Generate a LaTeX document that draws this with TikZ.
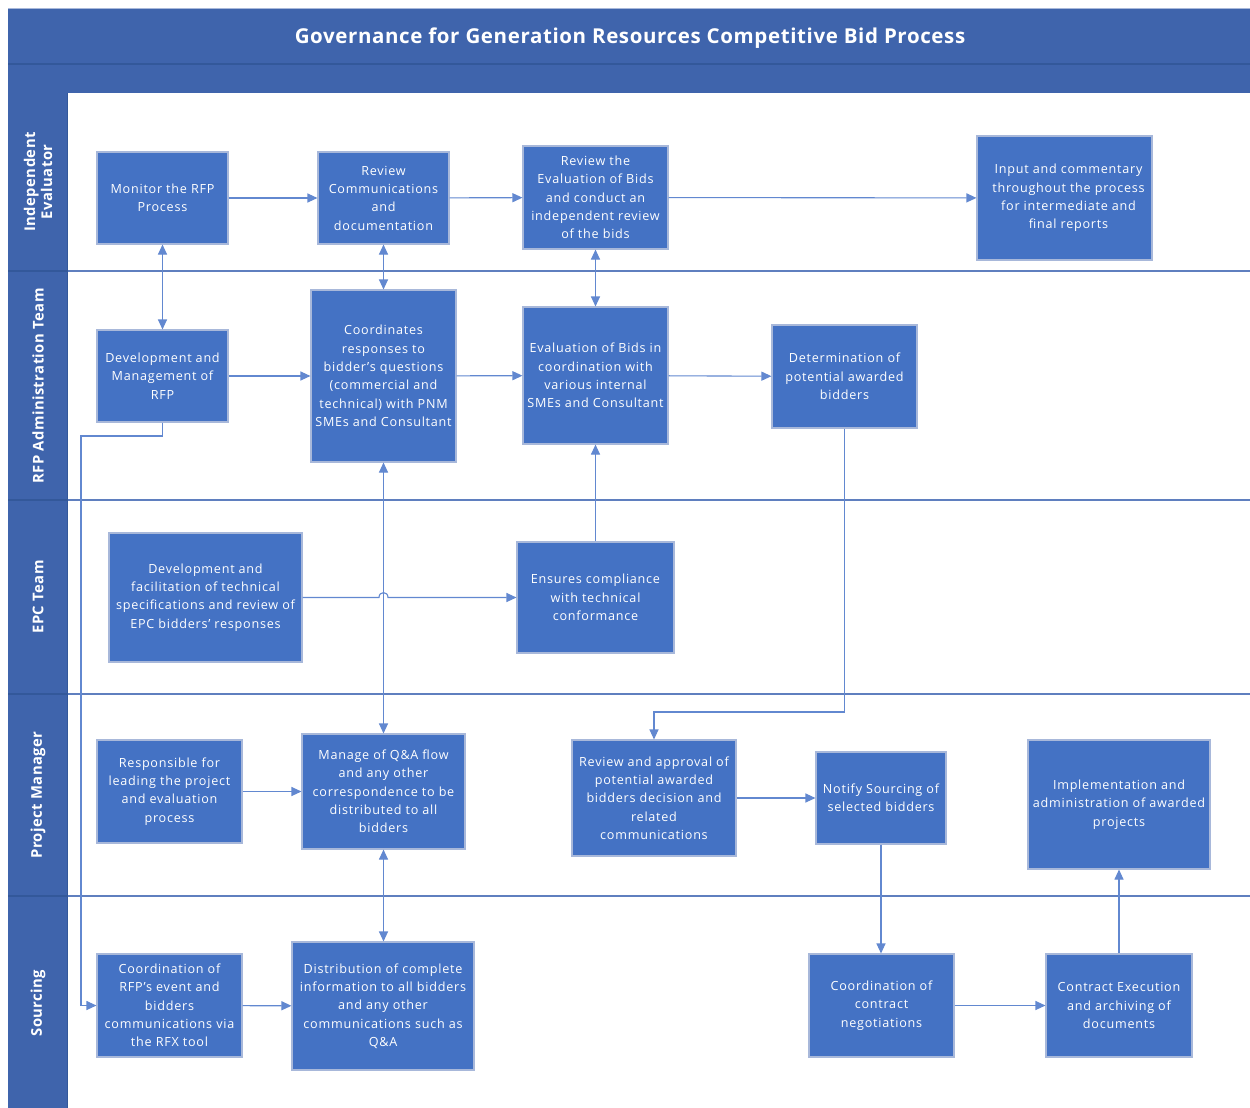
\documentclass[tikz,border=0pt]{standalone}
\usepackage{fontspec}
\setmainfont{Open Sans}
\newfontfamily\boxfont{Open Sans}[LetterSpace=6]
\newfontfamily\titlefont{Open Sans}[LetterSpace=3]
\usetikzlibrary{arrows.meta}
\definecolor{hdr}{HTML}{3F64AC}
\definecolor{hdrline}{HTML}{33589A}
\definecolor{boxfill}{HTML}{4472C4}
\definecolor{boxline}{HTML}{A8B8DA}
\definecolor{lineblue}{HTML}{6288D0}
\definecolor{laneline}{HTML}{5F7FBF}
\tikzset{
  box/.style={draw=boxline, fill=boxfill, text=white, align=center,
    line width=1.1pt, inner sep=1pt,
    font=\boxfont\fontsize{12.6}{18.3}\selectfont},
  conn/.style={draw=lineblue, line width=1.1pt, -{Triangle[length=10pt,width=9pt]}},
  biconn/.style={draw=lineblue, line width=1.1pt, {Triangle[length=10pt,width=9pt]}-{Triangle[length=10pt,width=9pt]}},
  lanelabel/.style={rotate=90, text=white, align=center, font=\titlefont\bfseries\fontsize{14.8}{17}\selectfont}
}
\begin{document}
\begin{tikzpicture}[x=1pt,y=-1pt]
\useasboundingbox (0,0) rectangle (1250,1108);
\fill[white] (0,0) rectangle (1250,1108);
% header
\fill[hdr] (8,8) rectangle (1250,93);
\draw[hdrline, line width=1.5pt] (8,64) -- (1250,64);
\draw[boxline, line width=0.8pt] (8,8) -- (1250,8);
\node[text=white, font=\titlefont\bfseries\fontsize{20.5}{23}\selectfont] (title) at (630,38.5) {Governance for Generation Resources Competitive Bid Process};
% lane column
\fill[hdr] (8,93) rectangle (67,1108);
\foreach \yy in {271,500,694,896} {
  \draw[hdrline, line width=1.5pt] (8,\yy) -- (67,\yy);
  \draw[laneline, line width=1.5pt] (67,\yy) -- (1250,\yy);
}
\draw[hdrline, line width=1pt] (67,93) -- (67,1108);
\node[lanelabel] (l1) at (38,182) {Independent\\Evaluator};
\node[lanelabel] (l2) at (38,386) {RFP Administration Team};
\node[lanelabel] (l3) at (38,597) {EPC Team};
\node[lanelabel] (l4) at (38,795) {Project Manager};
\node[lanelabel] (l5) at (38,1003) {Sourcing};
% boxes
\node[box, minimum width=131, minimum height=92] (mon) at (162.5,198) {Monitor the RFP\\Process};
\node[box, minimum width=131, minimum height=92] (revc) at (383.5,198) {Review\\Communications\\and\\documentation};
\node[box, minimum width=145, minimum height=103] (reve) at (595.5,197.5) {Review the\\Evaluation of Bids\\and conduct an\\independent review\\of the bids};
\node[box, minimum width=175, minimum height=124] (inp) at (1064.5,198) {\hspace*{8pt}Input and commentary\\\hspace*{8pt}throughout the process\\\hspace*{8pt}for intermediate and\\\hspace*{8pt}final reports};
\node[box, minimum width=131, minimum height=92] (dev) at (162.5,376) {Development and\\Management of\\RFP};
\node[box, minimum width=145, minimum height=172] (coord) at (383.5,376) {Coordinates\\responses to\\bidder’s questions\\(commercial and\\technical)  with PNM\\SMEs and Consultant};
\node[box, minimum width=145, minimum height=137] (eval) at (595.5,375.5) {Evaluation of Bids in\\coordination with\\various internal\\SMEs and Consultant};
\node[box, minimum width=145, minimum height=103] (det) at (844.5,376.5) {Determination of\\potential awarded\\bidders};
\node[box, minimum width=193, minimum height=129] (epcdev) at (205.5,597.5) {Development and\\facilitation of technical\\specifications and review of\\EPC bidders’ responses};
\node[box, minimum width=157, minimum height=111] (ens) at (595.5,597.5) {Ensures compliance\\with technical\\conformance};
\node[box, minimum width=145, minimum height=103] (resp) at (169.5,791.5) {Responsible for\\leading the project\\and evaluation\\process};
\node[box, minimum width=163, minimum height=115] (qa) at (383.5,791.5) {Manage of Q\&A flow\\and any other\\correspondence to be\\distributed to all\\bidders};
\node[box, minimum width=164, minimum height=116] (revapp) at (654,798) {Review and approval of\\potential awarded\\bidders decision and\\related\\communications};
\node[box, minimum width=130, minimum height=92] (notify) at (881,798) {Notify Sourcing of\\selected bidders};
\node[box, minimum width=182, minimum height=129] (impl) at (1119,804.5) {Implementation and\\administration of awarded\\projects};
\node[box, minimum width=145, minimum height=103] (srccoord) at (169.5,1005.5) {Coordination of\\RFP’s event and\\bidders\\communications via\\the RFX tool};
\node[box, minimum width=182, minimum height=128] (dist) at (383,1006) {Distribution of complete\\information to all bidders\\and any other\\communications such as\\Q\&A};
\node[box, minimum width=145, minimum height=103] (contr) at (881.5,1005.5) {Coordination of\\contract\\negotiations};
\node[box, minimum width=146, minimum height=103] (exec) at (1119,1005.5) {Contract Execution\\and archiving of\\documents};
% connectors
\draw[conn] (mon) -- (revc);
\draw[conn] (revc) -- (reve);
\draw[conn] (reve) -- (inp);
\draw[biconn] (mon) -- (dev);
\draw[biconn] (revc) -- (coord);
\draw[biconn] (reve) -- (eval);
\draw[conn] (dev) -- (coord);
\draw[conn] (coord) -- (eval);
\draw[conn] (eval) -- (det);
\coordinate (d1) at (162.5,436);
\coordinate (d2) at (81,436);
\coordinate (d3) at (81,1005.5);
\draw[conn] (dev.south) -- (d1) -- (d2) -- (d3) -- (srccoord.west);
\coordinate (h1) at (379,597.5);
\coordinate (h2) at (388,597.5);
\draw[conn] (epcdev.east) -- (h1) .. controls (379,591) and (388,591) .. (h2) -- (ens.west);
\draw[conn] (ens) -- (eval);
\draw[biconn] (coord) -- (qa);
\coordinate (e1) at (844.5,712);
\draw[conn] (det.south) -- (e1) -| (revapp.north);
\draw[conn] (resp) -- (qa);
\draw[biconn] (qa.south) -- (qa.south |- dist.north);
\draw[conn] (revapp.east |- notify.west) -- (notify.west);
\draw[conn] (notify.south) -- (notify.south |- contr.north);
\draw[conn] (srccoord) -- (dist);
\draw[conn] (contr) -- (exec);
\draw[conn] (exec) -- (impl);
\end{tikzpicture}
\end{document}
